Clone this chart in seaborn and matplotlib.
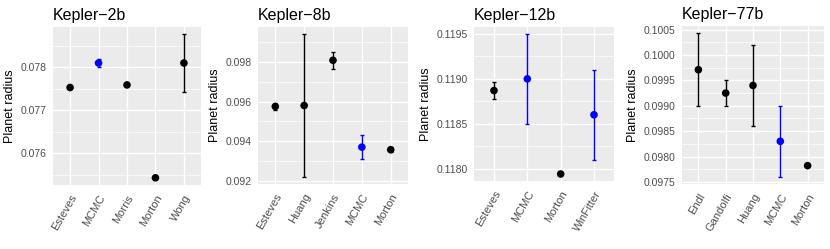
import numpy as np
import pandas as pd
import matplotlib
matplotlib.use("Agg")
import matplotlib.pyplot as plt
from matplotlib.ticker import MultipleLocator, FormatStrFormatter
import seaborn as sns

# Kepler-2b
k2_sources = ["Esteves", "MCMC", "Morris", "Morton", "Wong"]
k2_radius = [0.07753, 0.07810, 0.07759, 0.07543, 0.07810]
k2_err = [0.0, 0.00009, 0.0, 0.0, 0.00067]

# Kepler-8b
k8_sources = ["Esteves", "Huang", "Jenkins", "MCMC", "Morton"]
k8_radius = [0.09575, 0.09580, 0.09808, 0.09370, 0.09357]
k8_err = [0.00020, 0.00360, 0.00043, 0.00060, 0.00013]

# Kepler-12b
k12_sources = ["Esteves", "MCMC", "Morton", "WinFitter"]
k12_radius = [0.11887, 0.11900, 0.11794, 0.11860]
k12_err = [0.00009, 0.00050, 0.0, 0.00050]

# Kepler-77b
k77_sources = ["Endl", "Gandolfi", "Huang", "MCMC", "Morton"]
k77_radius = [0.09971, 0.09925, 0.09940, 0.09830, 0.09782]
k77_err = [0.00072, 0.00026, 0.00080, 0.00070, 0.0]

blue_sources = ["MCMC", "WinFitter"]

panels = [
    ("Kepler\u22122b", k2_sources, k2_radius, k2_err, 0.001, "%.3f"),
    ("Kepler\u22128b", k8_sources, k8_radius, k8_err, 0.002, "%.3f"),
    ("Kepler\u221212b", k12_sources, k12_radius, k12_err, 0.0005, "%.4f"),
    ("Kepler\u221277b", k77_sources, k77_radius, k77_err, 0.0005, "%.4f"),
]

# axes boxes in pixels: left, bottom(from top), right, top
boxes = [
    (53, 185, 201, 27),
    (258, 184, 408, 27),
    (474, 181, 614, 27),
    (682, 184, 824, 26),
]

sns.set_theme(style="darkgrid", rc={
    "axes.facecolor": "#EBEBEB",
    "grid.color": "white",
    "axes.edgecolor": "#EBEBEB",
})
plt.rcParams["font.family"] = ["Liberation Sans", "DejaVu Sans"]

W, H = 830, 249
fig = plt.figure(figsize=(W / 100, H / 100), dpi=100)

for (title, sources, radius, err, step, fmt), (l, b, r, t) in zip(panels, boxes):
    ax = fig.add_axes([l / W, 1 - b / H, (r - l) / W, (b - t) / H])
    df = pd.DataFrame({"source": sources, "radius": radius, "err": err})
    df["x"] = np.arange(len(df))
    df["group"] = np.where(df["source"].isin(blue_sources), "fit", "lit")
    palette = {"fit": "#0000FF", "lit": "black"}

    for grp, sub in df.groupby("group"):
        has_err = sub[sub["err"] > 0]
        ax.errorbar(has_err["x"], has_err["radius"], yerr=has_err["err"],
                    fmt="none", ecolor=palette[grp], elinewidth=1.0,
                    capsize=1.6, capthick=1.0, zorder=3)
    sns.scatterplot(data=df, x="x", y="radius", hue="group", palette=palette,
                    s=30, edgecolor="none", legend=False, ax=ax, zorder=4)

    lo = (df["radius"] - df["err"]).min()
    hi = (df["radius"] + df["err"]).max()
    pad = (hi - lo) * 0.05
    ax.set_ylim(lo - pad, hi + pad)
    ax.set_xlim(-0.6, len(df) - 0.4)

    ax.yaxis.set_major_locator(MultipleLocator(step))
    ax.yaxis.set_minor_locator(MultipleLocator(step / 2))
    ax.yaxis.set_major_formatter(FormatStrFormatter(fmt))
    ax.set_xticks(df["x"])
    ax.set_xticklabels(sources, rotation=60, ha="right", va="top",
                       rotation_mode="anchor")
    ax.grid(which="major", color="white", linewidth=1.0)
    ax.grid(which="minor", axis="y", color="white", linewidth=0.5)
    ax.tick_params(axis="y", which="major", length=2.7, width=0.6,
                   color="#333333", labelsize=7.5, labelcolor="#4D4D4D", pad=2)
    ax.tick_params(axis="x", which="major", length=2.7, width=0.6,
                   color="#333333", labelsize=8, labelcolor="#4D4D4D", pad=3)
    ax.tick_params(axis="y", which="minor", length=0)
    ax.set_xlabel("")
    ax.set_ylabel("Planet radius", fontsize=9, color="black", labelpad=3)
    ax.set_title(title, loc="left", fontsize=11.5, color="black", pad=5)
    for sp in ax.spines.values():
        sp.set_visible(False)

fig.savefig("out.png", dpi=100)
